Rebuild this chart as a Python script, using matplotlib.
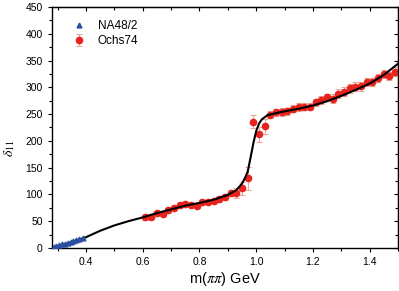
import matplotlib
matplotlib.use("Agg")
import matplotlib.pyplot as plt
from matplotlib.ticker import MultipleLocator

plt.rcParams['font.family'] = ['Liberation Sans', 'DejaVu Sans']
plt.rcParams['mathtext.fontset'] = 'stix'

# NA48/2 data
na48_x = [0.286, 0.296, 0.306, 0.316, 0.326, 0.336, 0.346, 0.356, 0.366, 0.376, 0.39]
na48_y = [2, 4, 5, 7, 8, 10, 11, 13, 14, 16, 18]

# Ochs74 data
ochs_x = [0.61, 0.63, 0.65, 0.67, 0.69, 0.71, 0.73, 0.75, 0.77, 0.79,
          0.81, 0.83, 0.85, 0.87, 0.89, 0.91, 0.93, 0.95, 0.97, 0.99,
          1.01, 1.03, 1.05, 1.07, 1.09, 1.11, 1.13, 1.15, 1.17, 1.19,
          1.21, 1.23, 1.25, 1.27, 1.29, 1.31, 1.33, 1.35, 1.37, 1.39,
          1.41, 1.43, 1.45, 1.47, 1.49]
ochs_y = [57, 58, 65, 63, 70, 74, 80, 82, 80, 78,
          85, 86, 88, 91, 95, 103, 102, 111, 130, 236,
          212, 227, 249, 253, 254, 255, 260, 263, 264, 264,
          272, 276, 281, 279, 288, 292, 298, 301, 302, 310,
          310, 317, 325, 321, 329]
ochs_err = [4, 4, 4, 4, 4, 4, 4, 4, 4, 4,
            4, 4, 4, 5, 5, 6, 9, 12, 22, 12,
            14, 14, 7, 7, 7, 7, 7, 7, 7, 7,
            7, 7, 7, 8, 8, 8, 8, 8, 8, 8,
            8, 8, 8, 8, 8]

# Theory curve
curve_x = [0.28, 0.30, 0.35, 0.40, 0.45, 0.50, 0.55, 0.60, 0.65, 0.70,
           0.75, 0.80, 0.85, 0.90, 0.93, 0.95, 0.96, 0.97, 0.98, 0.99,
           1.00, 1.01, 1.02, 1.04, 1.08, 1.10, 1.15, 1.20, 1.25, 1.30,
           1.35, 1.40, 1.45, 1.50]
curve_y = [0, 3, 11, 20, 32, 42, 50, 57, 65, 72,
           79, 84, 90, 99, 108, 120, 130, 142, 168, 195,
           218, 232, 240, 248, 253, 255, 260, 266, 274, 284,
           295, 307, 323, 344]

fig = plt.figure(figsize=(3.99, 2.91), dpi=100)
ax = fig.add_axes([0.130, 0.148, 0.8675, 0.828])

ax.plot(curve_x, curve_y, color='black', lw=1.5, zorder=3)
ax.errorbar(ochs_x, ochs_y, yerr=ochs_err, fmt='o', color='#e8231e',
            ecolor='#eba898', elinewidth=0.8, capsize=2.5, capthick=0.8,
            markersize=4.5, label='Ochs74', zorder=2)
ax.plot(na48_x, na48_y, '^', color='#2a4fa0', markersize=3.5,
        label='NA48/2', zorder=4)

ax.set_xlim(0.28, 1.5)
ax.set_ylim(0, 450)
ax.xaxis.set_major_locator(MultipleLocator(0.2))
ax.xaxis.set_minor_locator(MultipleLocator(0.1))
ax.yaxis.set_major_locator(MultipleLocator(50))
ax.yaxis.set_minor_locator(MultipleLocator(25))
ax.set_xticks([0.4, 0.6, 0.8, 1.0, 1.2, 1.4])
ax.set_xticklabels(['0.4', '0.6', '0.8', '1.0', '1.2', '1.4'])
ax.tick_params(which='both', direction='out', labelsize=7.5, width=0.8)
ax.tick_params(which='major', length=3)
ax.tick_params(which='minor', length=2)

secx = ax.secondary_xaxis('top')
secx.xaxis.set_major_locator(MultipleLocator(0.2))
secx.xaxis.set_minor_locator(MultipleLocator(0.1))
secx.tick_params(which='both', direction='in', labeltop=False, width=0.8)
secx.tick_params(which='major', length=3)
secx.tick_params(which='minor', length=2)
secy = ax.secondary_yaxis('right')
secy.yaxis.set_major_locator(MultipleLocator(50))
secy.yaxis.set_minor_locator(MultipleLocator(25))
secy.tick_params(which='both', direction='in', labelright=False, width=0.8)
secy.tick_params(which='major', length=3)
secy.tick_params(which='minor', length=2)

for s in ax.spines.values():
    s.set_linewidth(1.0)

ax.set_xlabel(r'm($\pi\pi$) GeV', fontsize=10.5, labelpad=2)
fig.text(0.025, 0.49, r'$\delta_{11}$', fontsize=10, rotation=90,
         ha='center', va='center')

handles, labels = ax.get_legend_handles_labels()
order = [labels.index('NA48/2'), labels.index('Ochs74')]
ax.legend([handles[i] for i in order], [labels[i] for i in order],
          loc='upper left', bbox_to_anchor=(0.03, 0.985), frameon=False,
          fontsize=8.5, handletextpad=1.0, borderpad=0.3, labelspacing=0.25,
          handlelength=1.2)

fig.savefig('out.png', dpi=100)
